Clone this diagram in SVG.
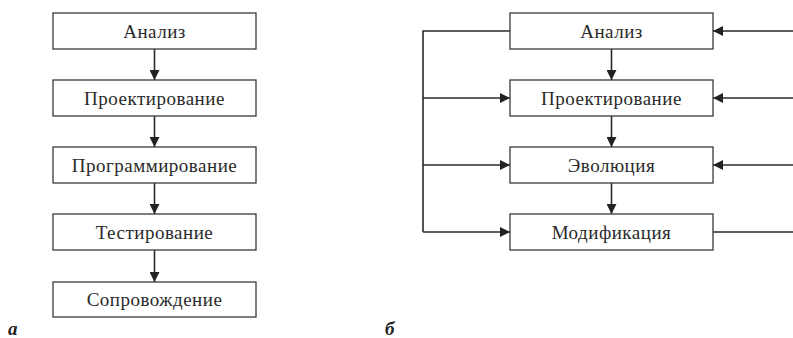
<svg xmlns="http://www.w3.org/2000/svg" width="793" height="338" viewBox="0 0 793 338">
<style>
.box{fill:#fff;stroke:#3a3a3a;stroke-width:1.3}
.t{font-family:"Liberation Serif","Times New Roman",serif;font-size:19px;letter-spacing:0.5px;fill:#2a2a2a;text-anchor:middle}
.ln{fill:none;stroke:#2a2a2a;stroke-width:1.6}
.lbl{font-family:"Liberation Serif","Times New Roman",serif;font-size:19px;font-weight:bold;font-style:italic;fill:#222}
</style>
<defs>
<marker id="ah" viewBox="0 0 10 10" refX="10" refY="5" markerWidth="10" markerHeight="10" markerUnits="userSpaceOnUse" orient="auto">
<path d="M0,0 L10,5 L0,10 Z" fill="#222"/>
</marker>
</defs>
<g id="connectors">
<path class="ln" d="M154.5,49 V80" marker-end="url(#ah)"/>
<path class="ln" d="M154.5,116 V147" marker-end="url(#ah)"/>
<path class="ln" d="M154.5,183 V214" marker-end="url(#ah)"/>
<path class="ln" d="M154.5,250 V282" marker-end="url(#ah)"/>
<path class="ln" d="M611.5,49 V80" marker-end="url(#ah)"/>
<path class="ln" d="M611.5,116 V147" marker-end="url(#ah)"/>
<path class="ln" d="M611.5,183 V214" marker-end="url(#ah)"/>
<path class="ln" d="M510,31 H423 V232"/>
<path class="ln" d="M423,98 H510" marker-end="url(#ah)"/>
<path class="ln" d="M423,165 H510" marker-end="url(#ah)"/>
<path class="ln" d="M423,232 H510" marker-end="url(#ah)"/>
<path class="ln" d="M793,31 H713" marker-end="url(#ah)"/>
<path class="ln" d="M793,98 H713" marker-end="url(#ah)"/>
<path class="ln" d="M793,165 H713" marker-end="url(#ah)"/>
<path class="ln" d="M713,232 H793"/>
</g>
<g id="a-analiz"><rect class="box" x="53" y="13" width="203" height="36"/><text class="t" x="154.5" y="37.5">Анализ</text></g>
<g id="a-proekt"><rect class="box" x="53" y="80" width="203" height="36"/><text class="t" x="154.5" y="104.5">Проектирование</text></g>
<g id="a-program"><rect class="box" x="53" y="147" width="203" height="36"/><text class="t" x="154.5" y="171.5">Программирование</text></g>
<g id="a-test"><rect class="box" x="53" y="214" width="203" height="36"/><text class="t" x="154.5" y="238.5">Тестирование</text></g>
<g id="a-soprov"><rect class="box" x="53" y="282" width="203" height="35"/><text class="t" x="154.5" y="306">Сопровождение</text></g>
<g id="b-analiz"><rect class="box" x="510" y="13" width="203" height="36"/><text class="t" x="611.5" y="37.5">Анализ</text></g>
<g id="b-proekt"><rect class="box" x="510" y="80" width="203" height="36"/><text class="t" x="611.5" y="104.5">Проектирование</text></g>
<g id="b-evol"><rect class="box" x="510" y="147" width="203" height="36"/><text class="t" x="611.5" y="171.5">Эволюция</text></g>
<g id="b-modif"><rect class="box" x="510" y="214" width="203" height="36"/><text class="t" x="611.5" y="238.5">Модификация</text></g>
<text class="lbl" x="8" y="335">а</text>
<text class="lbl" x="385" y="335">б</text>
</svg>
